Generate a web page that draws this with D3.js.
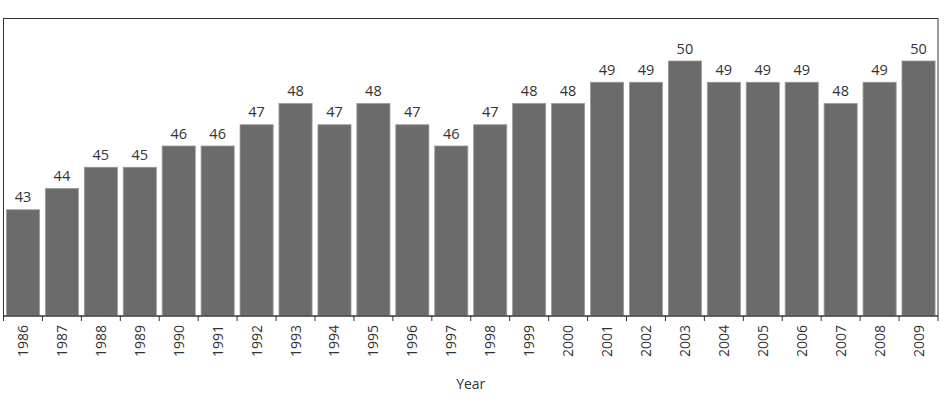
<!DOCTYPE html>
<html><head><meta charset="utf-8">
<script src="https://cdn.jsdelivr.net/npm/d3@7"></script>
<style>body{margin:0;background:#fff}svg{display:block}text{font-family:"Open Sans",sans-serif}</style>
</head><body>
<svg id="c" width="944" height="405"></svg>
<script>
const years = ["1986","1987","1988","1989","1990","1991","1992","1993","1994","1995","1996","1997","1998","1999","2000","2001","2002","2003","2004","2005","2006","2007","2008","2009"];
const values = [43,44,45,45,46,46,47,48,47,48,47,46,47,48,48,49,49,50,49,49,49,48,49,50];
const yDomain = [38,52];

const svg = d3.select("#c");
const m = {l:3.5, r:6, t:18.5, b:89};
const W = 944, H = 405;
const x = d3.scaleBand().domain(years).range([m.l, W - m.r]).paddingInner(0.15).paddingOuter(0.075);
const y = d3.scaleLinear().domain(yDomain).range([H - m.b, m.t]);

svg.append("rect").attr("x", m.l).attr("y", m.t).attr("width", W - m.r - m.l).attr("height", H - m.b - m.t)
  .attr("fill", "none").attr("stroke", "#333").attr("stroke-width", 1);

const data = years.map((d,i)=>({year:d, v:values[i]}));
svg.selectAll("rect.bar").data(data).join("rect").attr("class","bar")
  .attr("x", d=>x(d.year)).attr("width", x.bandwidth())
  .attr("y", d=>y(d.v)).attr("height", d=>y(yDomain[0]) - y(d.v))
  .attr("fill", "#6b6b6b").attr("stroke", "#9a9a9a").attr("stroke-width", 0.8);

svg.selectAll("text.val").data(data).join("text").attr("class","val")
  .attr("x", d=>x(d.year) + x.bandwidth()/2).attr("y", d=>y(d.v) - 7.5)
  .attr("text-anchor","middle").attr("font-size", 14.5).attr("fill","#333").text(d=>d.v);

// axis
const ax = svg.append("g").attr("transform", `translate(0,${H - m.b})`);
ax.append("line").attr("x1", m.l).attr("x2", W - m.r).attr("stroke","#333");
const step = x.step();
const edges = years.map(d => x(d) - step*x.paddingInner()/2).concat([W - m.r]);
ax.selectAll("line.tick").data(edges).join("line").attr("class","tick")
  .attr("x1", d=>d).attr("x2", d=>d).attr("y1",0).attr("y2",5).attr("stroke","#333");
ax.selectAll("text.lab").data(years).join("text").attr("class","lab")
  .attr("transform", d=>`translate(${x(d)+x.bandwidth()/2 + 5},9) rotate(-90)`)
  .attr("text-anchor","end").attr("font-size", 14).attr("fill","#333").text(d=>d);

svg.append("text").attr("x", (m.l + W - m.r)/2).attr("y", 389).attr("text-anchor","middle")
  .attr("font-size", 14).attr("fill","#333").text("Year");
</script>
</body></html>
